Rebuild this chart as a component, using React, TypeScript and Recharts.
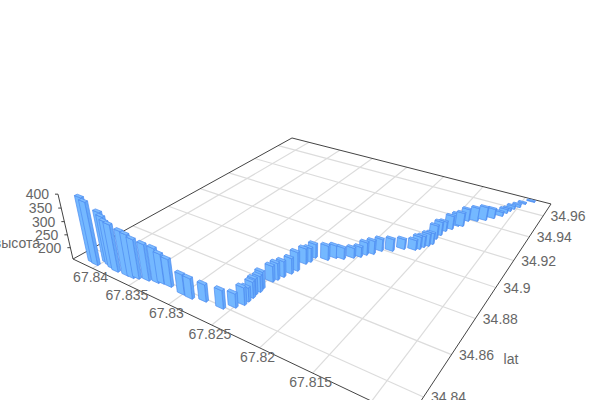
import { ReferenceLine, Scatter, ScatterChart, XAxis, YAxis } from 'recharts';

const lons = [
  67.841, 67.8404, 67.8398, 67.8392, 67.8386, 67.8379, 67.8366, 67.8359, 67.8354, 67.8344, 67.8334, 67.8329, 67.832,
  67.8302, 67.8292, 67.8279, 67.826, 67.8252, 67.8248, 67.8248, 67.8248, 67.8249, 67.8248, 67.8249, 67.8248, 67.8246,
  67.8244, 67.8241, 67.8239, 67.8239, 67.8237, 67.8237, 67.8225, 67.822, 67.8213, 67.8206, 67.8201, 67.8198, 67.8193,
  67.8189, 67.818, 67.8172, 67.8162, 67.8159, 67.8157, 67.8154, 67.8152, 67.8153, 67.8152, 67.8151, 67.8147, 67.8144,
  67.814, 67.8139, 67.8131, 67.8124, 67.8118, 67.8112, 67.811, 67.8108, 67.8106, 67.8102, 67.8099, 67.8092
];
const lats = [
  34.834, 34.8337, 34.8368, 34.8361, 34.8354, 34.8349, 34.8352, 34.8353, 34.8361, 34.8372, 34.8381, 34.8388, 34.8389,
  34.8381, 34.8379, 34.8393, 34.8396, 34.8423, 34.845, 34.8472, 34.8496, 34.8515, 34.8536, 34.8555, 34.8607, 34.8626,
  34.8652, 34.8683, 34.871, 34.8763, 34.8784, 34.8816, 34.8829, 34.8857, 34.8867, 34.8894, 34.8914, 34.8938, 34.8958,
  34.8993, 34.9016, 34.9052, 34.907, 34.9085, 34.9106, 34.9124, 34.9145, 34.9188, 34.9224, 34.9264, 34.9292, 34.933,
  34.9339, 34.9391, 34.9411, 34.9437, 34.9471, 34.9508, 34.9543, 34.9569, 34.9596, 34.9625, 34.9666, 34.9706
];
const heights = [
  400, 392, 348, 341, 333, 333, 322, 318, 303, 292, 285, 267, 259, 231, 231, 219, 223, 207, 220, 207, 215, 215, 215,
  219, 215, 219, 215, 215, 227, 215, 209, 209, 211, 204, 199, 194, 194, 204, 207, 202, 202, 194, 194, 204, 199, 204,
  199, 209, 209, 194, 209, 204, 209, 204, 209, 209, 194, 172, 172, 166, 168, 166, 160, 158
];

const lonTicks = [67.84, 67.835, 67.83, 67.825, 67.82, 67.815, 67.81];
const latTicks = [34.84, 34.86, 34.88, 34.9, 34.92, 34.94, 34.96];
const zTicks = [200, 250, 300, 350, 400];

const LON_MAX = 67.8429;
const LON_MIN = 67.8071;
const LAT_MIN = 34.8309;
const LAT_MAX = 34.9726;
const Z_MIN = 155;
const BAR_LON = 0.00086;
const BAR_LAT = 0.0012;

// camera, fitted to the floor of the box
function project(lon: number, lat: number, z: number = Z_MIN) {
  const u = (LON_MAX - lon) / (LON_MAX - LON_MIN);
  const v = (lat - LAT_MIN) / (LAT_MAX - LAT_MIN);
  const s = (-0.062 * (z - Z_MIN)) / (400 - Z_MIN);
  const w = -0.2961 * u + 0.4596 * v + 1 + s;
  return {
    x: (214.9 * u + 353.2 * v + 73 + 300 * s) / w,
    y: (35.9 * u - 57.6 * v + 259 + 1240 * s) / w
  };
}

// far bars first so the near ones paint over them
function depth(lon: number, lat: number) {
  return (LON_MAX - lon) / (LON_MAX - LON_MIN) - (lat - LAT_MIN) / (LAT_MAX - LAT_MIN);
}

const barRows = lons
  .map((lon, i) => {
    const p = project(lon, lats[i]);
    return { lon, lat: lats[i], z: heights[i], sx: p.x, sy: p.y };
  })
  .sort((a, b) => depth(a.lon, a.lat) - depth(b.lon, b.lat));

function seg(a: { x: number; y: number }, b: { x: number; y: number }) {
  return [
    { x: a.x, y: a.y },
    { x: b.x, y: b.y }
  ] as any;
}

const gridSegments = [
  ...lonTicks.map((t) => seg(project(t, LAT_MIN), project(t, LAT_MAX))),
  ...latTicks.map((t) => seg(project(LON_MAX, t), project(LON_MIN, t)))
];

const axisSegments = [
  seg(project(LON_MAX, LAT_MIN), project(LON_MIN, LAT_MIN)),
  seg(project(LON_MIN, LAT_MIN), project(LON_MIN, LAT_MAX)),
  seg(project(LON_MIN, LAT_MAX), project(LON_MAX, LAT_MAX)),
  seg(project(LON_MAX, LAT_MAX), project(LON_MAX, LAT_MIN)),
  seg(project(LON_MAX, LAT_MIN), project(LON_MAX, LAT_MIN, 400)),
  ...zTicks.map((t) => {
    const p = project(LON_MAX, LAT_MIN, t);
    return seg(p, { x: p.x - 3, y: p.y });
  })
];

const labelRows = [
  ...lonTicks.slice(0, 6).map((t) => {
    const p = project(t, LAT_MIN);
    return { sx: p.x - 2, sy: p.y + 9, text: String(t), anchor: 'middle' };
  }),
  ...latTicks.map((t) => {
    const p = project(LON_MIN, t);
    return { sx: p.x + 7.5, sy: p.y, text: String(t), anchor: 'start' };
  }),
  ...zTicks.map((t) => {
    const p = project(LON_MAX, LAT_MIN, t);
    return { sx: p.x - 9, sy: p.y, text: String(t), anchor: 'end' };
  }),
  { sx: 511, sy: 359, text: 'lat', anchor: 'middle' },
  { sx: 40, sy: 243, text: 'высота', anchor: 'end' }
];

function poly(pts: { x: number; y: number }[], ox: number, oy: number) {
  return pts.map((p) => `${p.x + ox},${p.y + oy}`).join(' ');
}

function BarBox(props: any) {
  const { cx, cy, payload } = props;
  const { lon, lat, z, sx, sy } = payload;
  const ox = cx - sx;
  const oy = cy - sy;
  const w = BAR_LON / 2;
  const d = BAR_LAT / 2;
  // front = towards the smaller lon, smaller lat corner
  const g1 = project(lon + w, lat - d);
  const g2 = project(lon - w, lat - d);
  const g3 = project(lon - w, lat + d);
  const t1 = project(lon + w, lat - d, z);
  const t2 = project(lon - w, lat - d, z);
  const t3 = project(lon - w, lat + d, z);
  const t4 = project(lon + w, lat + d, z);
  const line = { stroke: '#4d8df0', strokeWidth: 0.7, strokeLinejoin: 'round' as const };
  return (
    <g>
      <polygon points={poly([g2, g3, t3, t2], ox, oy)} fill="#64a8fa" {...line} />
      <polygon points={poly([g1, g2, t2, t1], ox, oy)} fill="#74b8ff" {...line} />
      <polygon points={poly([t1, t2, t3, t4], ox, oy)} fill="#7dbcff" {...line} />
    </g>
  );
}

function AxisLabel(props: any) {
  const { cx, cy, payload } = props;
  return (
    <text
      x={cx}
      y={cy}
      textAnchor={payload.anchor}
      dominantBaseline="central"
      fontSize={14}
      fontFamily="'Liberation Sans', Arial, sans-serif"
      fill="#666"
    >
      {payload.text}
    </text>
  );
}

export default function App() {
  return (
    <div style={{ position: 'absolute', left: 0, top: 0 }}>
      <ScatterChart width={600} height={400} margin={{ top: 0, right: 0, bottom: 0, left: 0 }}>
        <XAxis type="number" dataKey="sx" domain={[0, 600]} hide />
        <YAxis type="number" dataKey="sy" domain={[0, 400]} reversed hide />
        {gridSegments.map((s, i) => (
          <ReferenceLine key={`g${i}`} segment={s} stroke="#dcdcdc" strokeWidth={1.2} ifOverflow="visible" />
        ))}
        {axisSegments.map((s, i) => (
          <ReferenceLine key={`a${i}`} segment={s} stroke="#444" strokeWidth={1} ifOverflow="visible" />
        ))}
        <Scatter data={barRows} shape={BarBox} isAnimationActive={false} />
        <Scatter data={labelRows} shape={AxisLabel} isAnimationActive={false} />
      </ScatterChart>
    </div>
  );
}
